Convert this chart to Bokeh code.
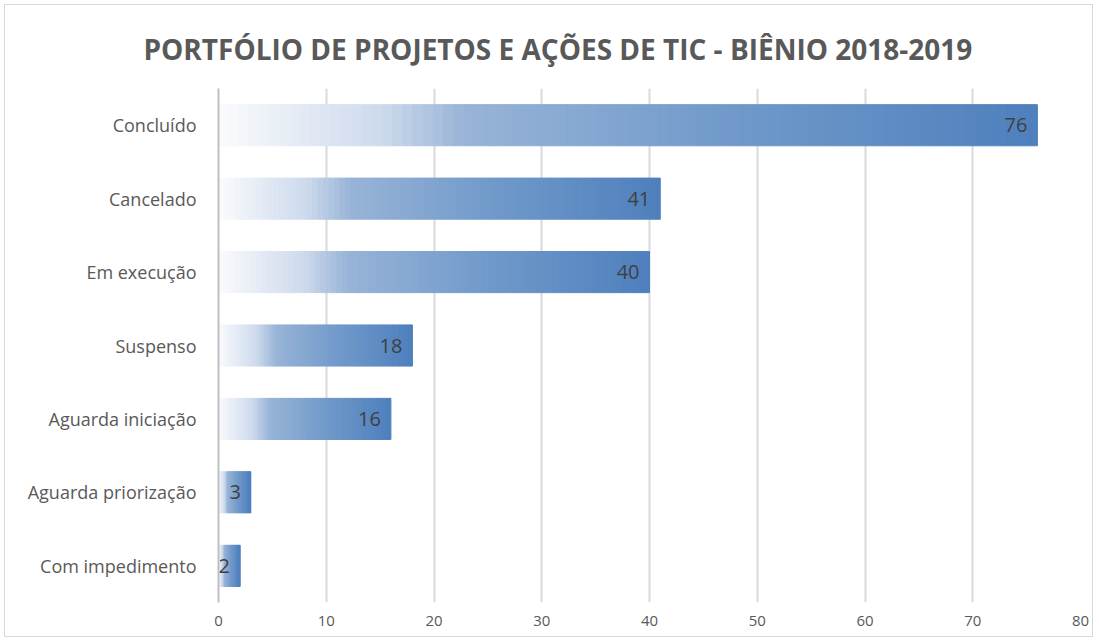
from bokeh.plotting import figure
from bokeh.models import Range1d, FactorRange, ColumnDataSource, FixedTicker
from bokeh.core.properties import value
from bokeh.embed import file_html
from bokeh.resources import INLINE

categories = ["Concluído", "Cancelado", "Em execução", "Suspenso",
              "Aguarda iniciação", "Aguarda priorização", "Com impedimento"]
values = [76, 41, 40, 18, 16, 3, 2]
x_ticks = [0, 10, 20, 30, 40, 50, 60, 70, 80]
title_text = "PORTFÓLIO DE PROJETOS E AÇÕES DE TIC - BIÊNIO 2018-2019"

# gradient stops (fraction of bar length, rgb)
stops = [(0.0, (250, 251, 253)), (0.2, (205, 218, 236)), (0.3, (152, 180, 215)),
         (0.6, (115, 155, 203)), (1.0, (78, 128, 189))]

def grad(t):
    for (t0, c0), (t1, c1) in zip(stops[:-1], stops[1:]):
        if t <= t1:
            f = (t - t0) / (t1 - t0) if t1 > t0 else 0
            return "#%02x%02x%02x" % tuple(int(round(a + (b - a) * f)) for a, b in zip(c0, c1))
    return "#%02x%02x%02x" % stops[-1][1]

N = 80
left, right, ys, cols = [], [], [], []
for cat, v in zip(categories, values):
    for i in range(N):
        left.append(v * i / N)
        right.append(v * (i + 1) / N)
        ys.append(cat)
        cols.append(grad((i + 0.5) / N))
seg = ColumnDataSource(dict(left=left, right=right, y=ys, color=cols))

font = "Open Sans"
p = figure(width=1089, height=633, output_backend="svg", toolbar_location=None,
           x_range=Range1d(0, 80),
           y_range=FactorRange(factors=categories[::-1], range_padding=0),
           min_border_left=213, min_border_right=14, min_border_bottom=36, min_border_top=83)
p.styles = {"border": "1px solid #d9d9d9", "margin": "4px 0px 0px 4px"}
p.outline_line_color = None

p.title.text = title_text
p.title.align = "left"
p.title.offset = -75
p.title.text_font = font
p.title.text_font_size = "28px"
p.title.text_font_style = "bold"
p.title.text_color = "#595959"
p.title.standoff = 42

p.hbar(y="y", left="left", right="right", height=0.56, source=seg,
       fill_color="color", line_color="color", line_width=1)

p.text(x=values, y=categories, text=[str(v) for v in values],
       text_align="right", text_baseline="middle", x_offset=-10,
       text_font=value(font), text_font_size="20px", text_color="#404040")

p.xaxis.ticker = FixedTicker(ticks=x_ticks)
p.xgrid.ticker = FixedTicker(ticks=x_ticks)
p.xgrid.grid_line_color = "#d9d9d9"
p.xgrid.grid_line_width = 2
p.ygrid.grid_line_color = None
p.xaxis.axis_line_color = None
p.xaxis.major_tick_line_color = None
p.xaxis.minor_tick_line_color = None
p.xaxis.major_label_text_font = font
p.xaxis.major_label_text_font_size = "15px"
p.xaxis.major_label_text_color = "#595959"
p.xaxis.major_label_standoff = 7

p.yaxis.axis_line_color = "#bfbfbf"
p.yaxis.axis_line_width = 2
p.yaxis.major_tick_line_color = None
p.yaxis.minor_tick_line_color = None
p.yaxis.major_label_text_font = font
p.yaxis.major_label_text_font_size = "18px"
p.yaxis.major_label_text_color = "#595959"
p.yaxis.major_label_standoff = 16

open("out.html", "w").write(file_html(p, INLINE))
